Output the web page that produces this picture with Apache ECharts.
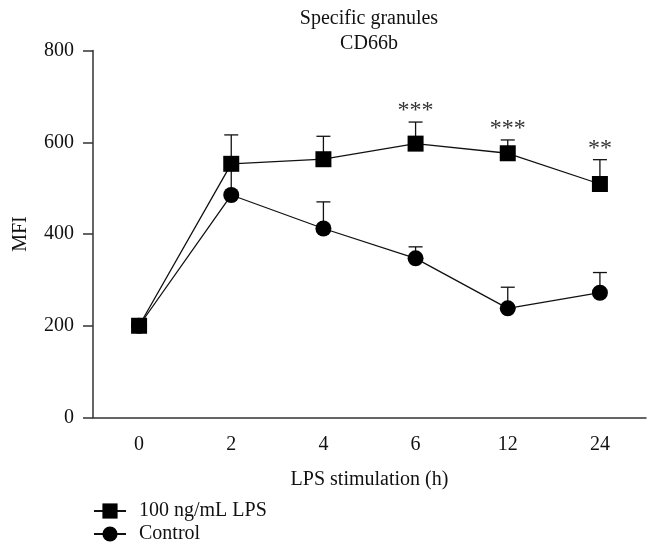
<!DOCTYPE html>
<html>
<head>
<meta charset="utf-8" />
<title>Specific granules CD66b</title>
<style type="text/css">
  html, body {height: 100%; margin: 0; padding: 0; background: #fff;}
  #main {width: 654px; height: 548px;}
</style>
<script type="text/javascript" src="https://cdn.jsdelivr.net/npm/echarts@6/dist/echarts.min.js"></script>
</head>
<body>
<div id="main"></div>
<script type="text/javascript">
// time points (h)
var hours = ['0', '2', '4', '6', '12', '24'];
// 100 ng/mL LPS: mean and top of error bar
var lpsMean = [200, 553, 563, 597, 576, 509];
var lpsUpper = [null, 616, 613, 644, 605, 562];
var lpsStars = ['', '', '', '***', '***', '**'];
// control
var ctrlMean = [200, 485, 412, 347, 238, 272];
var ctrlUpper = [null, 540, 470, 372, 284, 316];

var FONT = '"Liberation Serif", "DejaVu Serif", serif';

function errData(mean, upper, stars) {
  var out = [];
  for (var i = 0; i < mean.length; i++) {
    out.push([i, mean[i], upper[i], stars ? stars[i] : '']);
  }
  return out;
}

function renderErr(params, api) {
  var top = api.value(2);
  if (top == null || isNaN(top)) return null;
  var p0 = api.coord([api.value(0), api.value(1)]);
  var p1 = api.coord([api.value(0), top]);
  var half = 7;
  var style = {stroke: '#111', lineWidth: 1.3};
  var children = [
    {type: 'line', shape: {x1: p0[0], y1: p0[1], x2: p1[0], y2: p1[1]}, style: style},
    {type: 'line', shape: {x1: p1[0] - half, y1: p1[1], x2: p1[0] + half, y2: p1[1]}, style: style}
  ];
  var s = api.value(3);
  if (s) {
    children.push({
      type: 'text',
      style: {
        text: s, x: p1[0], y: p1[1] + 1,
        align: 'center', verticalAlign: 'bottom',
        font: '24px ' + FONT, fill: '#333'
      }
    });
  }
  return {type: 'group', children: children};
}

var myChart = echarts.init(document.getElementById('main'));

myChart.setOption({
  animation: false,
  title: {
    text: 'Specific granules\nCD66b',
    left: 369,
    textAlign: 'center',
    top: 6,
    padding: 0,
    textStyle: {fontFamily: FONT, fontSize: 20, fontWeight: 'normal', color: '#111', lineHeight: 25}
  },
  grid: {left: 93, right: 8, top: 50.5, bottom: 130.5},
  legend: {
    orient: 'vertical',
    left: 93,
    top: 501,
    padding: 0,
    itemWidth: 32,
    itemHeight: 19,
    itemGap: 3,
    data: ['100 ng/mL LPS', 'Control'],
    textStyle: {fontFamily: FONT, fontSize: 20, color: '#111', lineHeight: 20, padding: [0, 0, 0, 8]}
  },
  xAxis: {
    type: 'category',
    data: hours,
    boundaryGap: true,
    name: 'LPS stimulation (h)',
    nameLocation: 'middle',
    nameGap: 52,
    nameTextStyle: {fontFamily: FONT, fontSize: 20, color: '#111'},
    axisLine: {lineStyle: {color: '#333', width: 1.5}},
    axisTick: {alignWithLabel: true, length: 10, lineStyle: {color: '#333', width: 1.5}},
    axisLabel: {fontFamily: FONT, fontSize: 20, color: '#111', margin: 17},
    splitLine: {show: false}
  },
  yAxis: {
    type: 'value',
    min: 0,
    max: 800,
    interval: 200,
    name: 'MFI',
    nameLocation: 'middle',
    nameGap: 62,
    nameTextStyle: {fontFamily: FONT, fontSize: 20, color: '#111'},
    axisLine: {show: true, lineStyle: {color: '#333', width: 1.5}},
    axisTick: {show: true, length: 10, lineStyle: {color: '#333', width: 1.5}},
    axisLabel: {fontFamily: FONT, fontSize: 20, color: '#111', margin: 19},
    splitLine: {show: false}
  },
  series: [
    {
      name: 'ctrl-err',
      type: 'custom',
      renderItem: renderErr,
      encode: {x: 0, y: [1, 2]},
      data: errData(ctrlMean, ctrlUpper),
      z: 1
    },
    {
      name: 'lps-err',
      type: 'custom',
      renderItem: renderErr,
      encode: {x: 0, y: [1, 2]},
      data: errData(lpsMean, lpsUpper, lpsStars),
      z: 1
    },
    {
      name: 'Control',
      type: 'line',
      data: ctrlMean,
      symbol: 'circle',
      symbolSize: 16,
      lineStyle: {color: '#111', width: 1.3},
      itemStyle: {color: '#000'},
      z: 3
    },
    {
      name: '100 ng/mL LPS',
      type: 'line',
      data: lpsMean,
      symbol: 'rect',
      symbolSize: 16,
      lineStyle: {color: '#111', width: 1.3},
      itemStyle: {color: '#000'},
      z: 4
    }
  ]
});
</script>
</body>
</html>
